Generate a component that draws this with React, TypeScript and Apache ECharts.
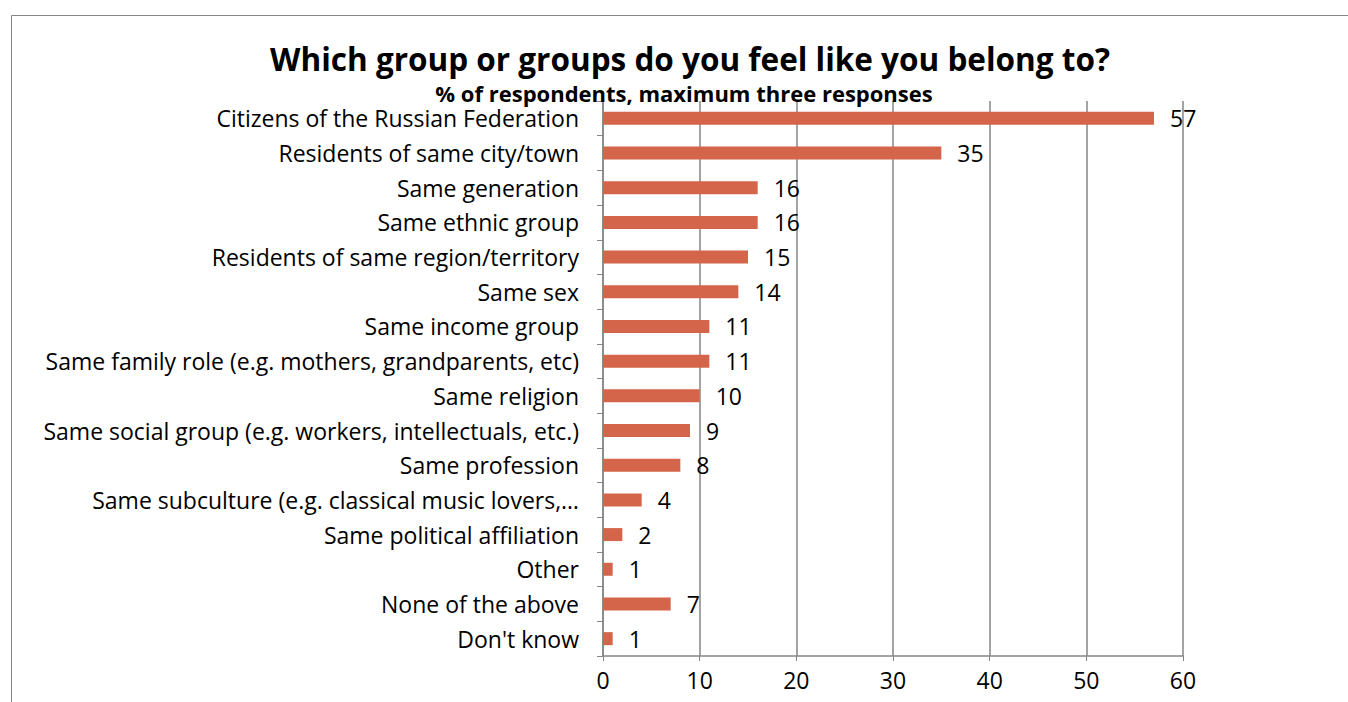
import React, { useEffect, useRef } from "react";
import * as echarts from "echarts";

const categories = [
  "Citizens of the Russian Federation",
  "Residents of same city/town",
  "Same generation",
  "Same ethnic group",
  "Residents of same region/territory",
  "Same sex",
  "Same income group",
  "Same family role (e.g. mothers, grandparents, etc)",
  "Same religion",
  "Same social group (e.g. workers, intellectuals, etc.)",
  "Same profession",
  "Same subculture (e.g. classical music lovers,…",
  "Same political affiliation",
  "Other",
  "None of the above",
  "Don't know",
];
const values = [57, 35, 16, 16, 15, 14, 11, 11, 10, 9, 8, 4, 2, 1, 7, 1];
const xTicks = [0, 10, 20, 30, 40, 50, 60];

const FONT = "'Open Sans', sans-serif";

export default function App() {
  const ref = useRef<HTMLDivElement>(null);
  useEffect(() => {
    const chart = echarts.init(ref.current!, null, { renderer: "svg" });
    chart.setOption({
      animation: false,
      backgroundColor: "#ffffff",
      textStyle: { fontFamily: FONT },
      title: [
        {
          text: "Which group or groups do you feel like you belong to?",
          left: 685,
          textAlign: "center",
          top: 37,
          textStyle: { fontSize: 31.5, fontWeight: "bold", color: "#000", fontFamily: FONT },
        },
        {
          text: "% of respondents, maximum three responses",
          left: 684,
          textAlign: "center",
          top: 84,
          padding: 0,
          textStyle: {
            fontSize: 22,
            lineHeight: 18,
            fontWeight: "bold",
            color: "#000",
            fontFamily: FONT,
          },
        },
      ],
      graphic: [
        {
          type: "rect",
          shape: { x: 11.5, y: 15.5, width: 1400, height: 800 },
          style: { fill: "none", stroke: "#868686", lineWidth: 1 },
          silent: true,
        },
      ],
      grid: { left: 603, right: 165, top: 101, bottom: 46, containLabel: false },
      xAxis: {
        type: "value",
        min: xTicks[0],
        max: xTicks[xTicks.length - 1],
        interval: 10,
        axisLine: { show: true, lineStyle: { color: "#868686", width: 1.5 } },
        axisTick: { show: true, length: 5, lineStyle: { color: "#868686" } },
        splitLine: { show: true, lineStyle: { color: "#868686", width: 1.5 } },
        axisLabel: { color: "#000", fontSize: 23, margin: 12, fontFamily: FONT },
      },
      yAxis: {
        type: "category",
        inverse: true,
        data: categories,
        axisLine: { show: true, lineStyle: { color: "#868686", width: 1.5 } },
        axisTick: { show: true, length: 6, lineStyle: { color: "#868686" } },
        axisLabel: {
          color: "#000",
          fontSize: 23,
          lineHeight: 20,
          margin: 24,
          fontFamily: FONT,
        },
      },
      series: [
        {
          type: "bar",
          data: values,
          barWidth: 13,
          itemStyle: { color: "#D4644A" },
          label: {
            show: true,
            position: "right",
            distance: 16,
            color: "#000",
            fontSize: 23,
            fontFamily: FONT,
          },
        },
      ],
    });
    return () => chart.dispose();
  }, []);
  return (
    <div
      ref={ref}
      style={{ position: "fixed", left: 0, top: 0, width: 1348, height: 702 }}
    />
  );
}
